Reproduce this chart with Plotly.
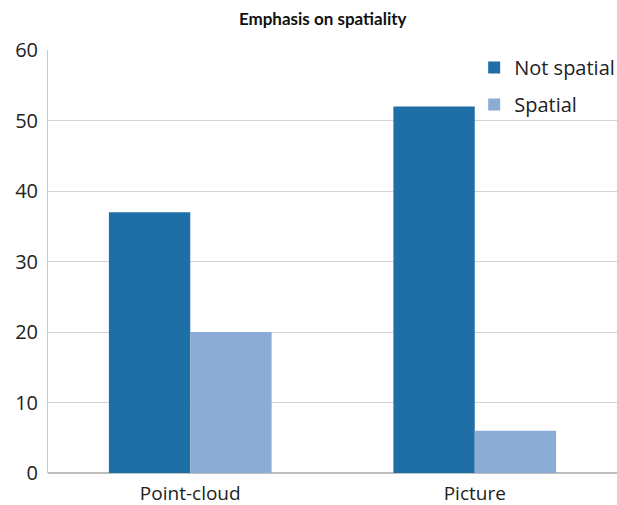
import plotly.graph_objects as go

categories = ["Point-cloud", "Picture"]
not_spatial = [37, 52]
spatial = [20, 6]
y_ticks = [0, 10, 20, 30, 40, 50, 60]

fig = go.Figure()
fig.add_trace(go.Bar(name="Not spatial", x=categories, y=not_spatial,
                     marker=dict(color="#1F6FA7", line=dict(width=0)),
                     legendgroup="a"))
fig.add_trace(go.Bar(name="Spatial", x=categories, y=spatial,
                     marker=dict(color="#8BACD4", line=dict(width=0)),
                     legendgroup="b"))

fig.update_layout(
    width=617, height=505,
    margin=dict(l=48, r=0, t=50, b=32, autoexpand=False),
    paper_bgcolor="white", plot_bgcolor="white",
    barmode="group", bargap=0.428, bargroupgap=0,
    font=dict(family="Open Sans", size=20, color="#222222"),
    title=dict(text="<b>Emphasis on spatiality</b>", x=0.523, xanchor="center",
               y=0.963, yanchor="middle",
               font=dict(family="Lato", size=17, color="#111111")),
    legend=dict(x=0.749, y=1.005, xanchor="left", yanchor="top",
                bgcolor="rgba(0,0,0,0)", traceorder="grouped", tracegroupgap=8,
                font=dict(size=20, color="#222222"), itemwidth=30),
    xaxis=dict(showgrid=False, showline=False, ticks="outside", ticklen=3,
               tickcolor="white", tickfont=dict(size=19)),
    yaxis=dict(range=[0, 60], tickvals=y_ticks, showgrid=True, gridcolor="#D4D4D4",
               gridwidth=1, showline=True, linecolor="#C8C8C8", linewidth=1,
               zeroline=True, zerolinecolor="#BDBDBD", zerolinewidth=2,
               ticks="outside", ticklen=5, tickcolor="white",
               tickfont=dict(size=20)),
)

fig.write_html("out.html")
